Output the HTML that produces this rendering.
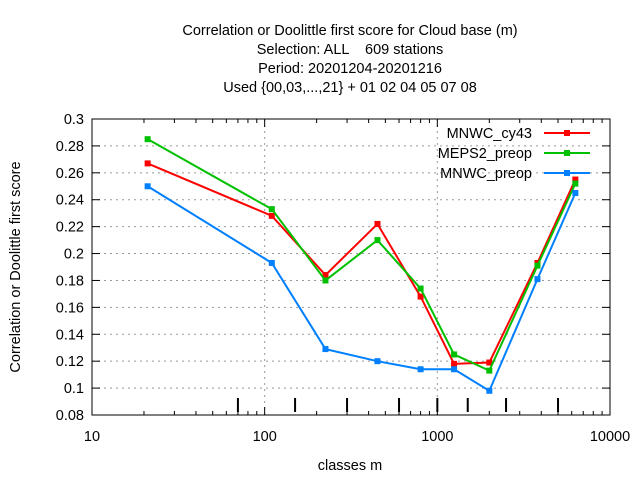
<!DOCTYPE html>
<html><head><meta charset="utf-8"><style>
body{margin:0;background:#fff}
svg text{font-family:"Liberation Sans",sans-serif;font-size:14.5px;fill:#000}
</style></head><body>
<svg id="c" width="640" height="480">
<g>
<text x="350" y="35" text-anchor="middle">Correlation or Doolittle first score  for Cloud base (m)</text>
<text x="350" y="54" text-anchor="middle" xml:space="preserve">Selection: ALL    609 stations</text>
<text x="350" y="73" text-anchor="middle">Period: 20201204-20201216</text>
<text x="350" y="92" text-anchor="middle">Used {00,03,...,21} + 01 02 04 05 07 08</text>
</g>
<text x="350" y="470" text-anchor="middle">classes m</text>
<text transform="translate(20,267) rotate(-90)" text-anchor="middle">Correlation or Doolittle first score</text>
<g id="grid"></g><g id="axes"></g><g id="series"></g><g id="legend"></g>
</svg>
<script>
const xs=[21,110,225,450,800,1250,2000,3800,6300];
const cy43=[0.267,0.228,0.184,0.222,0.168,0.118,0.119,0.193,0.255];
const meps=[0.285,0.233,0.180,0.210,0.174,0.125,0.113,0.191,0.252];
const preop=[0.250,0.193,0.129,0.120,0.114,0.114,0.098,0.181,0.245];
const names=["MNWC_cy43","MEPS2_preop","MNWC_preop"];
const yTicks=[0.08,0.1,0.12,0.14,0.16,0.18,0.2,0.22,0.24,0.26,0.28,0.3];
const xTicks=[10,100,1000,10000];
const bounds=[70,150,300,600,1000,1500,2500,5000];
const L=92,R=610,T=119,B=415;
const X=v=>L+(Math.log10(v)-1)/3*(R-L);
const Y=v=>B-(v-0.08)/0.22*(B-T);
const NS="http://www.w3.org/2000/svg";
function mk(p,t,a){const e=document.createElementNS(NS,t);for(const k in a)e.setAttribute(k,a[k]);document.getElementById(p).appendChild(e);return e;}
yTicks.forEach(v=>{const y=Y(v);
 if(v>0.08&&v<0.3){const g=mk("grid","line",{x1:L,x2:R,y1:y,y2:y,stroke:"#999","stroke-dasharray":"2,4"});
 
 }
 mk("axes","line",{x1:L,x2:L+8,y1:y,y2:y,stroke:"#000"});
 mk("axes","line",{x1:R,x2:R-8,y1:y,y2:y,stroke:"#000"});
 const t=mk("axes","text",{x:L-8,y:y+5,"text-anchor":"end"});t.textContent=String(v);
 
 
});
xTicks.forEach(v=>{const x=X(v);
 if(v>10&&v<10000){const g=mk("grid","line",{x1:x,x2:x,y1:T,y2:B,stroke:"#999","stroke-dasharray":"2,4"});
 
 }
 mk("axes","line",{x1:x,x2:x,y1:B,y2:B-8,stroke:"#000"});
 mk("axes","line",{x1:x,x2:x,y1:T,y2:T+8,stroke:"#000"});
 const t=mk("axes","text",{x:x,y:B+26,"text-anchor":"middle"});t.textContent=String(v);
 
 
 if(v<10000)for(let k=2;k<10;k++){const xm=X(v*k);
  mk("axes","line",{x1:xm,x2:xm,y1:B,y2:B-4,stroke:"#000"});
  mk("axes","line",{x1:xm,x2:xm,y1:T,y2:T+4,stroke:"#000"});}
});
bounds.forEach(v=>{const b=mk("axes","line",{x1:X(v),x2:X(v),y1:398,y2:412,stroke:"#000","stroke-width":2});
 
 });
const fr=mk("axes","rect",{x:L,y:T,width:R-L,height:B-T,fill:"none",stroke:"#000"});


const data=[cy43,meps,preop],cols=["#ff0000","#00c000","#0080ff"];
data.forEach((s,i)=>{
 const p=mk("series","polyline",{points:xs.map((x,j)=>X(x)+","+Y(s[j])).join(" "),fill:"none",stroke:cols[i],"stroke-width":2});
 
 
 xs.forEach((x,j)=>{const r=mk("series","rect",{x:X(x)-3,y:Y(s[j])-3,width:6,height:6,fill:cols[i]});
  
  });
 const ly=133+i*20;
 const t=mk("legend","text",{x:532,y:ly+5,"text-anchor":"end"});t.textContent=names[i];
 
 
 const l=mk("legend","line",{x1:544,x2:590,y1:ly,y2:ly,stroke:cols[i],"stroke-width":2});
 
 
 mk("legend","rect",{x:564,y:ly-3,width:6,height:6,fill:cols[i]});
});
</script>
</body></html>
